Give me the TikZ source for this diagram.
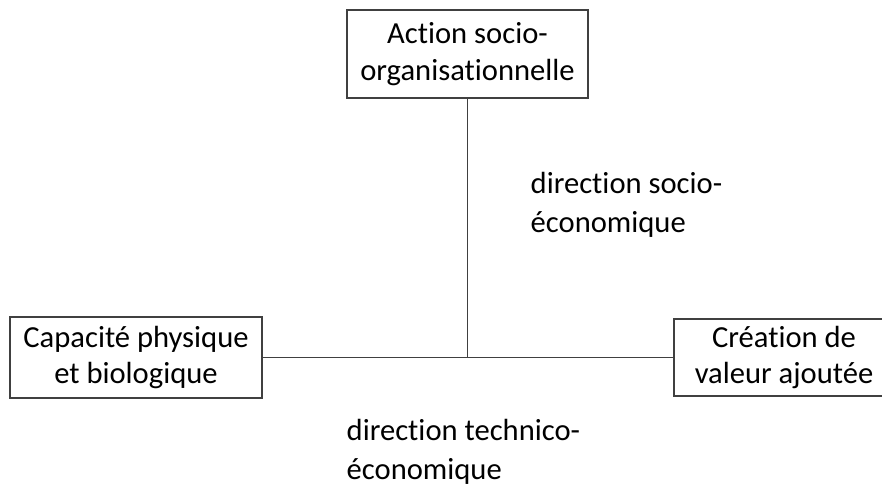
\documentclass[tikz,border=0pt]{standalone}
\usepackage{fontspec}
\setmainfont[Ligatures=NoCommon]{Carlito}
\usepackage{tikz}

\begin{document}
\begin{tikzpicture}[x=1pt, y=-1pt, line width=1.4pt]
    \tikzstyle{bloc}=[draw=black!75, align=center, inner sep=0pt, font=\fontsize{30.6}{36.7}\selectfont]
    \tikzstyle{legende}=[align=left, inner sep=0pt, anchor=base west, font=\fontsize{30.6}{38.5}\selectfont]
    \useasboundingbox (0,0) rectangle (882,488);
    \clip (0,0) rectangle (882,488);
    \node [bloc, minimum width=241pt, minimum height=88pt] (action) at (467.5,54) {Action socio-\\organisationnelle};
    \node [bloc, minimum width=252pt, minimum height=81pt] (capacite) at (136,357.5) {Capacité physique\\et biologique};
    \node [bloc, minimum width=220pt, minimum height=77pt] (creation) at (784,357.5) {Création de\\valeur ajoutée};
    \coordinate (centre) at (action.south |- capacite.east);
    \draw [draw=black!75] (capacite.east) -- (creation.west);
    \draw [draw=black!75] (action.south) -- (centre);
    \node [legende] (socio) at (530,232) {direction socio-\\économique};
    \node [legende] (techno) at (346,479) {direction technico-\\économique};
\end{tikzpicture}
\end{document}
